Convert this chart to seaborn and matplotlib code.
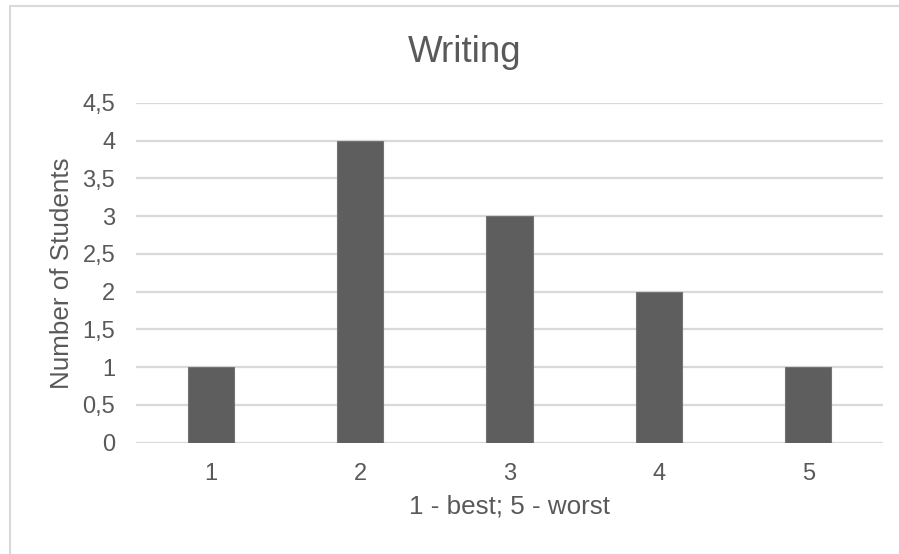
import matplotlib
matplotlib.use("Agg")
import matplotlib.pyplot as plt
from matplotlib.lines import Line2D
import seaborn as sns
import pandas as pd

# Survey results: self-rated writing skill
ratings = ["1", "2", "3", "4", "5"]
students = [1, 4, 3, 2, 1]
y_ticks = [0, 0.5, 1, 1.5, 2, 2.5, 3, 3.5, 4, 4.5]
y_tick_labels = ["0", "0,5", "1", "1,5", "2", "2,5", "3", "3,5", "4", "4,5"]

df = pd.DataFrame({"rating": ratings, "students": students})

sns.set_theme(style="white")
plt.rcParams["font.family"] = ["Liberation Sans", "DejaVu Sans"]

text_color = "#595959"
grid_color = "#d9d9d9"

fig = plt.figure(figsize=(8.99, 5.54), dpi=100)
W, H = 899, 554
left, right, top, bottom = 136, 883, 103, 442.5
ax = fig.add_axes([left / W, 1 - bottom / H, (right - left) / W, (bottom - top) / H])

sns.barplot(data=df, x="rating", y="students", ax=ax, color="#5e5e5e",
            width=0.31, saturation=1, edgecolor="#747474", linewidth=0.8,
            zorder=3)

ax.set_ylim(0, 4.5)
ax.set_xlim(-0.5, len(ratings) - 0.5)
ax.set_yticks(y_ticks)
ax.set_yticklabels(y_tick_labels)
ax.yaxis.grid(True, color=grid_color, linewidth=1.6, zorder=0)
ax.xaxis.grid(False)
for s in ax.spines.values():
    s.set_visible(False)
ax.tick_params(axis="both", length=0, colors=text_color, labelsize=17)
ax.tick_params(axis="y", pad=15)
ax.tick_params(axis="x", pad=15)

ax.set_xlabel("1 - best; 5 - worst", fontsize=18.7, color=text_color, labelpad=6.5)
ax.set_ylabel("Number of Students", fontsize=18.7, color=text_color, labelpad=6)

fig.text(465 / W, 1 - 52 / H, "Writing", fontsize=26.5, color=text_color,
         ha="center", va="center")

# Chart frame on the left and top edges
fig.add_artist(Line2D([9.5 / W, 9.5 / W], [0, 1 - 6 / H], color=grid_color,
                      linewidth=1.5, transform=fig.transFigure))
fig.add_artist(Line2D([9.5 / W, 1], [1 - 6 / H, 1 - 6 / H], color=grid_color,
                      linewidth=1.5, transform=fig.transFigure))

fig.savefig("out.png", dpi=100, facecolor="white")
